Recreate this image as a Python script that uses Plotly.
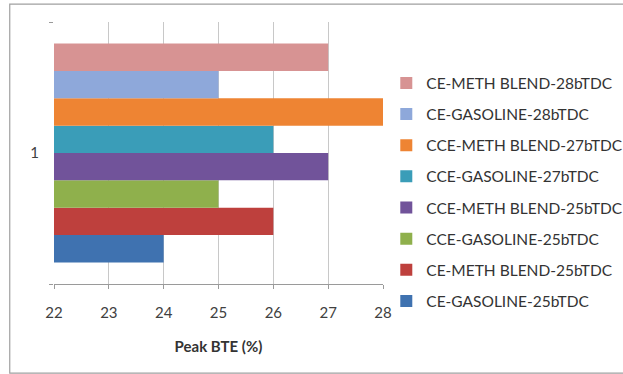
import plotly.graph_objects as go

# Peak brake thermal efficiency for each engine configuration / fuel / timing
series = [
    "CE-GASOLINE-25bTDC",
    "CE-METH BLEND-25bTDC",
    "CCE-GASOLINE-25bTDC",
    "CCE-METH BLEND-25bTDC",
    "CCE-GASOLINE-27bTDC",
    "CCE-METH BLEND-27bTDC",
    "CE-GASOLINE-28bTDC",
    "CE-METH BLEND-28bTDC",
]
peak_bte = [24, 26, 25, 27, 26, 28, 25, 27]
category = ["1"]
colors = ["#3F72B0", "#BE403D", "#8FB04C", "#71539A", "#3A9DB8",
          "#EE8433", "#8EA8DA", "#D79393"]

fig = go.Figure()
n = len(series)
for i, (name, val, col) in enumerate(zip(series, peak_bte, colors)):
    fig.add_trace(go.Bar(
        x=[val], y=category, name=name, orientation="h",
        marker=dict(color=col, line=dict(width=0)),
        legendgroup=name, legendrank=100 + (n - i),
    ))

fig.update_layout(
    width=623, height=374,
    margin=dict(l=54, r=240, t=22, b=90, autoexpand=False),
    paper_bgcolor="white", plot_bgcolor="white",
    barmode="group", bargap=0.165, bargroupgap=0,
    font=dict(family="Lato, 'Open Sans', sans-serif", size=15, color="#404040"),
    showlegend=True,
    legend=dict(
        traceorder="grouped", x=1.01, xanchor="left", xref="paper",
        y=0.35, yanchor="middle", font=dict(size=15.5, color="#333"),
        tracegroupgap=8, itemwidth=30, bgcolor="rgba(0,0,0,0)",
    ),
    xaxis=dict(
        range=[22, 28], dtick=1, tick0=22,
        showgrid=True, gridcolor="#C8C8C8", gridwidth=1,
        showline=True, linecolor="#9A9A9A", linewidth=1,
        ticks="outside", ticklen=4, tickcolor="#9A9A9A",
        tickfont=dict(size=15, color="#404040"), ticklabelstandoff=11,
        title=dict(text="<b>Peak BTE (%)</b>", font=dict(size=15, color="#333"),
                   standoff=21),
        zeroline=False,
    ),
    yaxis=dict(
        type="category", showgrid=False, showline=False,
        ticks="outside", ticklen=4, tickcolor="#9A9A9A", tickson="boundaries",
        tickfont=dict(size=15, color="#404040"), ticklabelstandoff=14,
    ),
    shapes=[dict(
        type="rect", xref="paper", yref="paper",
        x0=-0.1345, x1=1.8, y0=-0.34, y1=1.068,
        line=dict(color="#A0A0A0", width=1.2), fillcolor="rgba(0,0,0,0)",
        layer="below",
    )],
)

fig.write_html("out.html")
